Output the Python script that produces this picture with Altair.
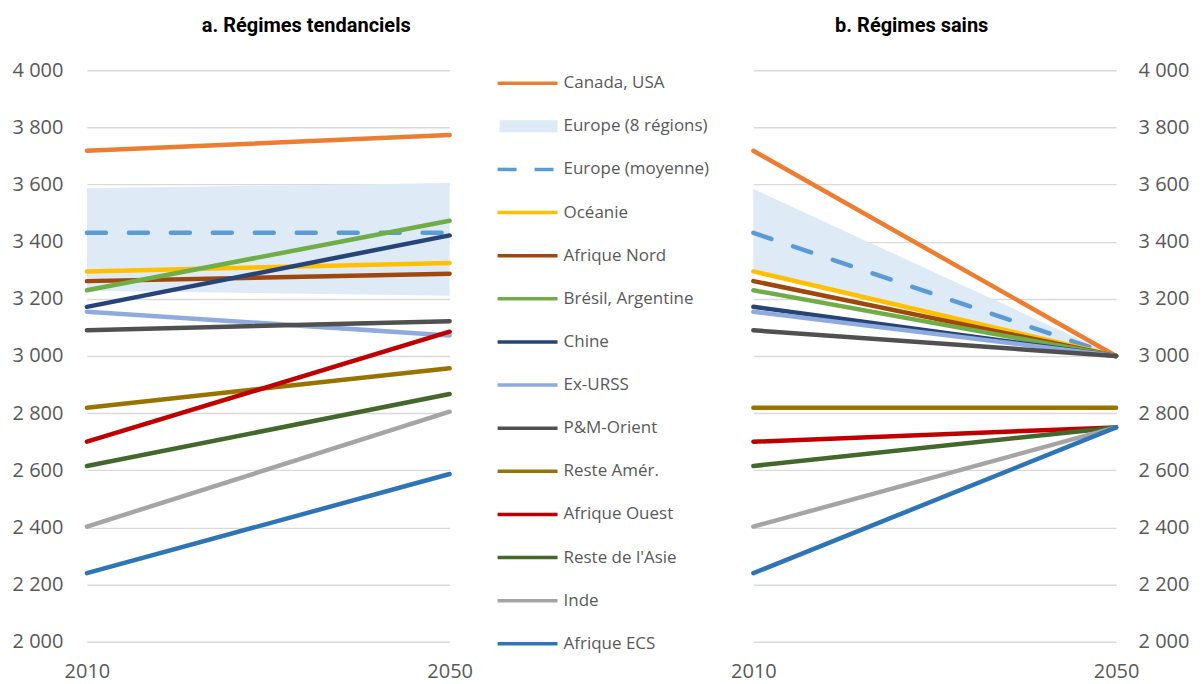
import altair as alt
import pandas as pd

years = [2010, 2050]
regions = ["Canada, USA", "Océanie", "Afrique Nord", "Brésil, Argentine", "Chine",
           "Ex-URSS", "P&M-Orient", "Reste Amér.", "Afrique Ouest", "Reste de l'Asie",
           "Inde", "Afrique ECS"]
colors = ["#ED7D31", "#FFC000", "#9E480E", "#70AD47", "#264478", "#8FAADC",
          "#505050", "#997300", "#C00000", "#43682B", "#A5A5A5", "#2E75B6"]
kcal_2010 = [3718, 3296, 3262, 3230, 3172, 3155, 3090, 2819, 2700, 2615, 2403, 2240]
tend_2050 = [3773, 3325, 3288, 3473, 3422, 3072, 3122, 2957, 3085, 2867, 2805, 2587]
sains_2050 = [3000, 3000, 3000, 3000, 3000, 3000, 3000, 2819, 2750, 2750, 2750, 2750]

europe_mean_tend = [3431, 3431]
europe_mean_sains = [3431, 3000]
europe_low_tend = [3228, 3211]
europe_high_tend = [3587, 3605]
europe_low_sains = [3300, 3000]
europe_high_sains = [3584, 3000]

legend_labels = ["Canada, USA", "Europe (8 régions)", "Europe (moyenne)", "Océanie",
                 "Afrique Nord", "Brésil, Argentine", "Chine", "Ex-URSS", "P&M-Orient",
                 "Reste Amér.", "Afrique Ouest", "Reste de l'Asie", "Inde", "Afrique ECS"]
legend_colors = ["#ED7D31", "#DEEAF6", "#5B9BD5", "#FFC000", "#9E480E", "#70AD47",
                 "#264478", "#8FAADC", "#505050", "#997300", "#C00000", "#43682B",
                 "#A5A5A5", "#2E75B6"]
legend_kinds = ["line", "band", "dash"] + ["line"] * 11

BAND = "#DEEAF6"
MEAN = "#5B9BD5"
GRID = "#D9D9D9"
LABEL = "#595959"
AXFONT = "Open Sans"
TFONT = "Liberation Sans Narrow, Roboto, sans-serif"
W, H = 363, 572


def panel(title, end_vals, low, high, mean_vals, orient, dx, lpad):
    rows = []
    for r, a, b in zip(regions, kcal_2010, end_vals):
        rows.append({"region": r, "year": years[0], "value": a})
        rows.append({"region": r, "year": years[1], "value": b})
    lines = pd.DataFrame(rows)
    band = pd.DataFrame({"year": years, "low": low, "high": high})
    mean = pd.DataFrame({"year": years, "value": mean_vals})

    xscale = alt.Scale(domain=[2010, 2050], nice=False, zero=False)
    yscale = alt.Scale(domain=[2000, 4000], nice=False, zero=False)
    xaxis = alt.Axis(values=years, format="d", grid=False, domain=False, ticks=False,
                     labelFlush=False, labelPadding=20, labelFontSize=20,
                     labelColor=LABEL, labelFont=AXFONT, title=None)
    yaxis = alt.Axis(orient=orient, values=list(range(2000, 4001, 200)),
                     labelExpr="replace(format(datum.value, ','), ',', ' ')",
                     grid=True, gridColor=GRID, gridWidth=1.4, domain=False,
                     ticks=False, labelPadding=lpad, labelFontSize=20,
                     labelColor=LABEL, labelFont=AXFONT, title=None)
    X = lambda f: alt.X(f, scale=xscale, axis=xaxis)
    Y = lambda f: alt.Y(f, scale=yscale, axis=yaxis)

    band_layer = alt.Chart(band).mark_area(color=BAND, opacity=1).encode(
        x=X("year:Q"), y=Y("low:Q"), y2="high:Q",
    )
    mean_layer = alt.Chart(mean).mark_line(
        color=MEAN, strokeWidth=4.5, strokeDash=[19, 23], strokeCap="round"
    ).encode(x=X("year:Q"), y=Y("value:Q"))
    line_layer = alt.Chart(lines).mark_line(strokeWidth=4.5, strokeCap="round").encode(
        x=X("year:Q"), y=Y("value:Q"),
        color=alt.Color("region:N", scale=alt.Scale(domain=regions, range=colors),
                        legend=None),
    )
    return alt.layer(band_layer, mean_layer, line_layer).properties(
        width=W, height=H,
        title=alt.TitleParams(text=title, font=TFONT, fontSize=20, fontWeight="bold",
                              color="#000000", anchor="middle", dx=dx, offset=24),
    )


left = panel("a. Régimes tendanciels", tend_2050, europe_low_tend, europe_high_tend,
             europe_mean_tend, "left", 38, 24)
right = panel("b. Régimes sains", sains_2050, europe_low_sains, europe_high_sains,
              europe_mean_sains, "right", -23, 22)

leg = pd.DataFrame({"label": legend_labels, "color": legend_colors, "kind": legend_kinds})
ly = alt.Y("label:N", scale=alt.Scale(type="point", domain=legend_labels, padding=0.3),
           axis=None)
lbase = alt.Chart(leg)
l_line = lbase.transform_filter(alt.datum.kind == "line").mark_rule(strokeWidth=3.5).encode(
    x=alt.value(8), x2=alt.value(68), y=ly, color=alt.Color("color:N", scale=None))
l_dash = lbase.transform_filter(alt.datum.kind == "dash").mark_rule(
    strokeWidth=3.5, strokeDash=[19, 18]).encode(
    x=alt.value(8), x2=alt.value(66), y=ly, color=alt.Color("color:N", scale=None))
l_band = lbase.transform_filter(alt.datum.kind == "band").mark_rule(strokeWidth=12).encode(
    x=alt.value(10), x2=alt.value(68), y=ly, color=alt.Color("color:N", scale=None))
l_text = lbase.mark_text(align="left", baseline="middle", fontSize=17, font=AXFONT,
                         color=LABEL).encode(x=alt.value(74), y=ly, text="label:N")
legend = alt.layer(l_band, l_line, l_dash, l_text).properties(width=224, height=587)

chart = alt.hconcat(left, legend, right, spacing=40, bounds="flush").configure_view(
    stroke=None
).properties(padding={"left": 4, "top": 8, "right": 5, "bottom": 5})

chart.save("out.html", embed_options={"renderer": "svg", "actions": False})
